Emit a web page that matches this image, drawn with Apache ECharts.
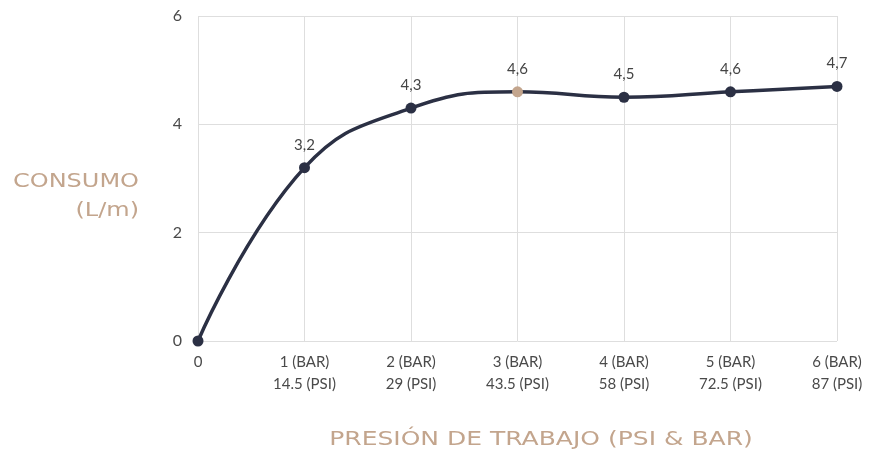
<!DOCTYPE html>
<html>
<head>
<meta charset="utf-8">
<script src="https://cdn.jsdelivr.net/npm/echarts@6/dist/echarts.min.js"></script>
<style>
  html, body { margin: 0; padding: 0; background: #fff; }
  #chart { width: 888px; height: 453px; }
</style>
</head>
<body>
<div id="chart"></div>
<script>
// categorías del eje X (presión)
var presion = ['0', '1 (BAR)\n14.5 (PSI)', '2 (BAR)\n29 (PSI)', '3 (BAR)\n43.5 (PSI)',
               '4 (BAR)\n58 (PSI)', '5 (BAR)\n72.5 (PSI)', '6 (BAR)\n87 (PSI)'];
// consumo en L/m
var consumo = [0, 3.2, 4.3, 4.6, 4.5, 4.6, 4.7];
var destacado = 3; // punto en color arena
var tituloY = ['CONSUMO', '(L/m)'];
var tituloX = 'PRESIÓN DE TRABAJO (PSI & BAR)';

var tan = '#c3a58d';
var navy = '#2b3044';
var nameFont = { fontSize: 20, fontFamily: 'DejaVu Sans', fill: tan };

var myChart = echarts.init(document.getElementById('chart'));
var option = {
  textStyle: { fontFamily: 'Lato' },
  grid: { left: 198, right: 51, top: 16, bottom: 112 },
  // títulos de ejes, un poco ensanchados como en el original
  graphic: [
    { type: 'text', x: 139, y: 182, scaleX: 1.2, silent: true,
      style: Object.assign({ text: tituloY[0], align: 'right', verticalAlign: 'middle' }, nameFont) },
    { type: 'text', x: 139, y: 211, scaleX: 1.2, silent: true,
      style: Object.assign({ text: tituloY[1], align: 'right', verticalAlign: 'middle' }, nameFont) },
    { type: 'text', x: 541, y: 440, scaleX: 1.25, silent: true,
      style: Object.assign({ text: tituloX, align: 'center', verticalAlign: 'middle' }, nameFont) }
  ],
  xAxis: {
    type: 'category',
    data: presion,
    boundaryGap: false,
    axisLine: { show: false },
    axisTick: { show: false },
    axisLabel: { color: '#4a4a4a', fontSize: 15, lineHeight: 22, margin: 10, interval: 0 },
    splitLine: { show: true, lineStyle: { color: '#dedede', width: 1 } }
  },
  yAxis: {
    type: 'value',
    min: 0,
    max: 6,
    interval: 2,
    axisLine: { show: false },
    axisTick: { show: false },
    axisLabel: { color: '#4a4a4a', fontSize: 16, margin: 16 },
    splitLine: { lineStyle: { color: '#dedede', width: 1 } }
  },
  series: [{
    type: 'line',
    smooth: 0.45,
    data: consumo.map(function (v, i) {
      var d = { value: v };
      if (i === destacado) d.itemStyle = { color: tan };
      return d;
    }),
    symbol: 'circle',
    symbolSize: 11,
    lineStyle: { color: navy, width: 3.5 },
    itemStyle: { color: navy },
    label: {
      show: true,
      position: 'top',
      distance: 10,
      color: '#444',
      fontSize: 15,
      formatter: function (p) {
        if (p.dataIndex === 0) return '';
        return String(p.value).replace('.', ',');
      }
    },
    animation: false
  }]
};
myChart.setOption(option);
</script>
</body>
</html>
